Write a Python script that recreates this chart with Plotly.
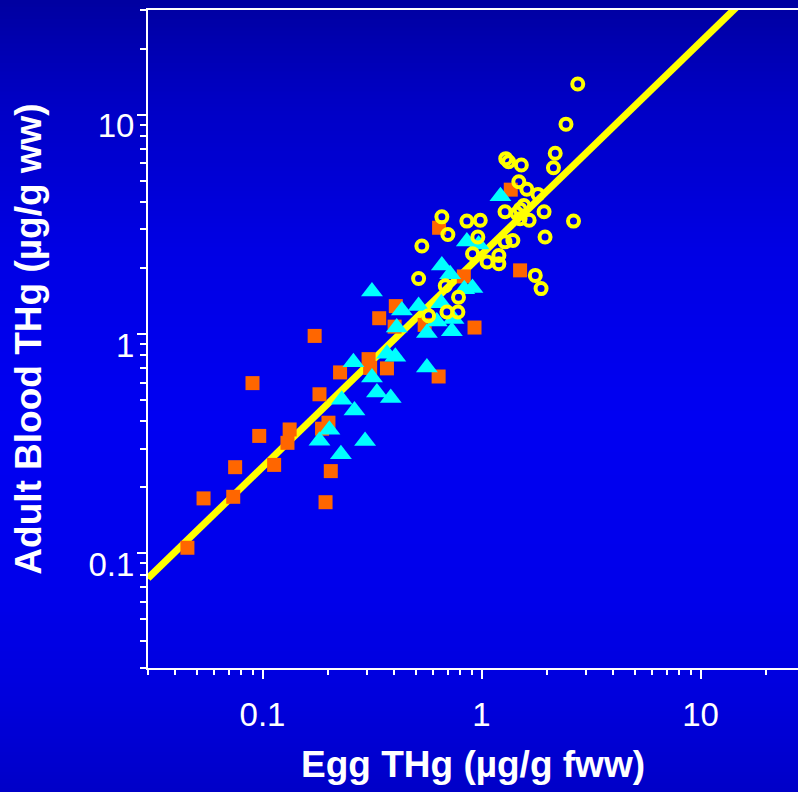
import numpy as np
import plotly.graph_objects as go

# Total mercury: egg concentration vs. adult blood concentration, three groups
square_egg = [0.0454, 0.0538, 0.0735, 0.075, 0.090, 0.0966, 0.113, 0.130, 0.133, 0.173,
              0.182, 0.187, 0.194, 0.200, 0.205, 0.226, 0.305, 0.31, 0.341, 0.370,
              0.401, 0.406, 0.55, 0.637, 0.64, 0.83, 0.929, 1.36, 1.50]
square_blood = [0.106, 0.178, 0.181, 0.247, 0.597, 0.343, 0.253, 0.319, 0.367, 0.98,
                0.531, 0.370, 0.171, 0.394, 0.237, 0.668, 0.768, 0.70, 1.18, 0.697,
                1.08, 1.34, 1.10, 0.640, 3.05, 1.83, 1.07, 4.55, 1.95]

triangle_egg = [0.182, 0.202, 0.228, 0.230, 0.263, 0.260, 0.294, 0.316, 0.316, 0.333,
                0.370, 0.385, 0.404, 0.410, 0.433, 0.516, 0.563, 0.563, 0.625, 0.655,
                0.659, 0.719, 0.732, 0.745, 0.834, 0.909, 0.857, 0.97, 1.22]
triangle_blood = [0.326, 0.366, 0.283, 0.502, 0.448, 0.744, 0.325, 0.634, 1.56, 0.541,
                  0.812, 0.511, 0.787, 1.07, 1.28, 1.34, 1.01, 0.704, 1.14, 1.38,
                  2.05, 1.87, 1.03, 1.17, 1.60, 1.62, 2.64, 2.56, 4.25]

circle_egg = [2.75, 2.43, 2.17, 2.13, 1.29, 1.33, 1.52, 1.48, 1.61, 1.81,
              1.93, 2.63, 1.95, 1.65, 1.28, 1.45, 1.50, 1.56, 1.50, 1.28,
              1.39, 0.659, 0.702, 0.857, 0.987, 0.962, 0.534, 0.91, 1.06, 1.20,
              1.20, 0.516, 0.683, 0.785, 0.695, 0.780, 0.573, 1.76, 1.87]
circle_blood = [13.8, 9.05, 6.67, 5.73, 6.3, 6.1, 5.89, 4.94, 4.57, 4.33,
                3.61, 3.27, 2.77, 3.30, 3.61, 3.55, 3.70, 3.85, 3.35, 2.63,
                2.67, 3.42, 2.84, 3.27, 3.30, 2.77, 2.52, 2.32, 2.13, 2.28,
                2.09, 1.79, 1.66, 1.47, 1.26, 1.26, 1.21, 1.85, 1.61]

# log-log regression line: log10(blood) = FIT_INTERCEPT + FIT_SLOPE * log10(egg)
FIT_SLOPE = 0.969
FIT_INTERCEPT = 0.362
fit_x_range = [0.03, 20.0]

major_ticks = [0.1, 1, 10]
major_text = ["0.1", "1", "10"]
minor_x = [0.03, 0.04, 0.05, 0.06, 0.07, 0.08, 0.09,
           0.2, 0.3, 0.4, 0.5, 0.6, 0.7, 0.8, 0.9,
           2, 3, 4, 5, 6, 7, 8, 9, 20]
minor_y = minor_x + [30]

W, H = 798, 792
M_L, M_R, M_T, M_B = 148, 0, 10, 124

fit_x = np.logspace(np.log10(fit_x_range[0]), np.log10(fit_x_range[1]), 50)
fit_y = 10 ** (FIT_INTERCEPT + FIT_SLOPE * np.log10(fit_x))

fig = go.Figure()
fig.add_trace(go.Scatter(x=fit_x, y=fit_y, mode="lines",
                         line=dict(color="#FFFF00", width=7), hoverinfo="skip"))
fig.add_trace(go.Scatter(x=square_egg, y=square_blood, mode="markers",
                         marker=dict(symbol="square", size=14, color="#FF6600",
                                     line=dict(width=0))))
fig.add_trace(go.Scatter(x=triangle_egg, y=triangle_blood, mode="markers",
                         marker=dict(symbol="triangle-up", size=19, color="#00FFFF",
                                     line=dict(width=0))))
fig.add_trace(go.Scatter(x=circle_egg, y=circle_blood, mode="markers",
                         marker=dict(symbol="circle-open", size=11, color="#FFFF00",
                                     line=dict(width=4, color="#FFFF00"))))

# vertical blue gradient behind everything, built from thin horizontal bands
stops = [(0, 160), (100, 196), (250, 228), (420, 242), (600, 234), (700, 220), (792, 200)]
plot_h = H - M_T - M_B
plot_w = W - M_L - M_R
band = 4
shapes = []
for top in range(0, H, band):
    mid = top + band / 2
    blue = int(round(np.interp(mid, [s[0] for s in stops], [s[1] for s in stops])))
    y0 = (H - M_B - (top + band)) / plot_h
    y1 = (H - M_B - top) / plot_h
    shapes.append(dict(type="rect", xref="paper", yref="paper",
                       x0=-M_L / plot_w - 0.01, x1=1.01, y0=y0, y1=y1 + 0.001,
                       line=dict(width=0), fillcolor=f"rgb(0,0,{blue})", layer="below"))

tick_font = dict(family="Arial, Liberation Sans, sans-serif", size=33, color="white")
title_font = dict(family="Arial, Liberation Sans, sans-serif", size=37, color="white",
                  weight="bold")

axis_common = dict(
    type="log", showgrid=False, zeroline=False, automargin=False,
    showline=True, linecolor="white", linewidth=2,
    ticks="outside", ticklen=9, tickwidth=2, tickcolor="white",
    tickmode="array", tickvals=major_ticks, ticktext=major_text,
    tickfont=tick_font,
)

fig.update_layout(
    width=W, height=H,
    margin=dict(l=M_L, r=M_R, t=M_T, b=M_B, pad=0),
    paper_bgcolor="rgb(0,0,200)", plot_bgcolor="rgba(0,0,0,0)",
    showlegend=False, shapes=shapes,
    xaxis=dict(axis_common, range=[np.log10(0.03), 1.445], mirror=True,
               ticklabelstandoff=7,
               minor=dict(tickmode="array", tickvals=minor_x, ticks="outside",
                          ticklen=5, tickwidth=2, tickcolor="white", showgrid=False),
               title=dict(text="\u00a0Egg THg (µg/g fww)", font=title_font, standoff=20)),
    yaxis=dict(axis_common, range=[np.log10(0.03), np.log10(30)],
               ticklabelstandoff=-4, ticklabelshift=11,
               minor=dict(tickmode="array", tickvals=minor_y, ticks="outside",
                          ticklen=6, tickwidth=2, tickcolor="white", showgrid=False),
               title=dict(text="Adult Blood THg (µg/g ww)", font=title_font, standoff=36)),
)

fig.write_html("out.html")
